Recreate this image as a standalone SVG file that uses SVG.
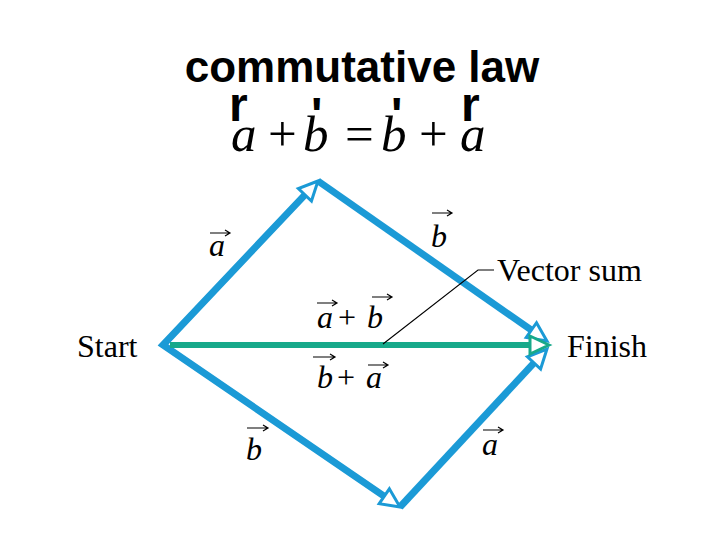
<svg xmlns="http://www.w3.org/2000/svg" width="720" height="540" viewBox="0 0 720 540">
<style>
.title{font-family:"Liberation Sans",Arial,sans-serif;font-weight:bold;font-size:44px;fill:#000}
.sym{font-family:"Liberation Sans",Arial,sans-serif;font-weight:bold;font-size:48px;fill:#000}
.eq{font-family:"Liberation Serif","Times New Roman",serif;font-size:51px;fill:#000}
.lbl{font-family:"Liberation Serif","Times New Roman",serif;font-size:32px;fill:#000}
.vec{font-family:"Liberation Serif","Times New Roman",serif;font-size:32px;font-style:italic;fill:#000}
.it{font-style:italic}
.blue{fill:none;stroke:#1b9ad6;stroke-width:7;stroke-linejoin:miter}
.green{fill:none;stroke:#17a98a;stroke-width:6}
.acc{fill:none;stroke:#000;stroke-width:1.2}
.lead{fill:none;stroke:#000;stroke-width:1.1}
</style>
<defs>
<marker id="hb" markerUnits="userSpaceOnUse" orient="auto-start-reverse" overflow="visible" markerWidth="1" markerHeight="1" refX="0" refY="0">
<path d="M18,0 L-1,-9 L-1,9 Z" fill="#fff" stroke="#1b9ad6" stroke-width="3"/>
</marker>
<marker id="hg" markerUnits="userSpaceOnUse" orient="auto" overflow="visible" markerWidth="1" markerHeight="1" refX="0" refY="0">
<path d="M18,0 L-1,-9 L-1,9 Z" fill="#fff" stroke="#17a98a" stroke-width="3"/>
</marker>
</defs>

<g id="title">
<text class="title" x="362" y="82" text-anchor="middle">commutative law</text>
</g>

<g id="equation">
<text class="sym" x="229" y="121">r</text>
<text class="sym" x="311" y="131">'</text>
<text class="sym" x="391" y="131">'</text>
<text class="sym" x="461" y="121">r</text>
<text class="eq" y="151"><tspan x="231" class="it">a</tspan><tspan x="268">+</tspan><tspan x="303" class="it">b</tspan><tspan x="345">=</tspan><tspan x="381" class="it">b</tspan><tspan x="419">+</tspan><tspan x="460" class="it">a</tspan></text>
</g>

<g id="connectors">
<path class="blue" d="M305.6,194.1 L163,345 L385.1,496.8" marker-start="url(#hb)" marker-end="url(#hb)"/>
<path class="blue" d="M318,181 L532.2,330.7" marker-end="url(#hb)"/>
<path class="blue" d="M400,507 L534.7,362.2" marker-end="url(#hb)"/>
<path class="green" d="M170,345 L531,345" marker-end="url(#hg)"/>
<path class="lead" d="M383,344 L478,270 L494,270"/>
</g>

<g id="start"><text class="lbl" x="77" y="357">Start</text></g>
<g id="finish"><text class="lbl" x="567" y="357">Finish</text></g>
<g id="vector-sum"><text class="lbl" x="497" y="281" font-size="34">Vector sum</text></g>

<g id="label-a-upper">
<text class="vec" x="209" y="256">a</text>
<path class="acc" d="M210,233 H230 M225,230 L230,233 L225,236"/>
</g>
<g id="label-b-upper">
<text class="vec" x="431" y="247">b</text>
<path class="acc" d="M432,213 H452 M447,210 L452,213 L447,216"/>
</g>
<g id="label-a-plus-b">
<text class="vec" x="317" y="328">a</text>
<text class="lbl" x="338" y="328">+</text>
<text class="vec" x="367" y="328">b</text>
<path class="acc" d="M317,303 H337 M332,300 L337,303 L332,306"/>
<path class="acc" d="M372,297 H392 M387,294 L392,297 L387,300"/>
</g>
<g id="label-b-plus-a">
<text class="vec" x="317" y="388">b</text>
<text class="lbl" x="337" y="388">+</text>
<text class="vec" x="366" y="388">a</text>
<path class="acc" d="M313,357 H335 M330,354 L335,357 L330,360"/>
<path class="acc" d="M368,365 H388 M383,362 L388,365 L383,368"/>
</g>
<g id="label-b-lower">
<text class="vec" x="246" y="460">b</text>
<path class="acc" d="M247,428 H268 M263,425 L268,428 L263,431"/>
</g>
<g id="label-a-lower">
<text class="vec" x="482" y="455">a</text>
<path class="acc" d="M483,430 H503 M498,427 L503,430 L498,433"/>
</g>
</svg>
